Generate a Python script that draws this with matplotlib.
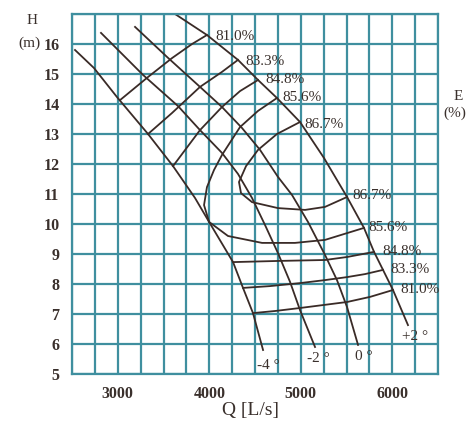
import numpy as np
import matplotlib

matplotlib.use('Agg')

from matplotlib import pyplot as plt

plt.rcParams['font.family'] = ['Liberation Serif', 'DejaVu Serif']

##### Blade angle curves (H-Q) #####
angle_labels = ['-4', '-2', '0', '+2']

q_m4 = [2533, 2740, 2992, 3331, 3604, 3844, 3998, 4260, 4369, 4478, 4588]
h_m4 = [15.80, 15.20, 14.23, 13.00, 11.93, 10.87, 10.07, 8.73, 7.87, 7.03, 5.80]

q_m2 = [2817, 3276, 3659, 3899, 4139, 4314, 4467, 4609, 4751, 4883, 4992, 5156]
h_m2 = [16.37, 14.97, 13.93, 13.13, 12.37, 11.67, 10.87, 9.97, 9.03, 8.07, 7.13, 5.90]

q_0 = [3189, 3538, 3899, 4139, 4358, 4555, 4751, 4904, 5079, 5265, 5396, 5506, 5626]
h_0 = [16.57, 15.57, 14.57, 13.90, 13.20, 12.47, 11.57, 10.97, 10.07, 8.97, 8.13, 7.23, 5.97]

q_p2 = [3626, 3975, 4314, 4533, 4740, 4992, 5254, 5506, 5691, 5801, 5899, 6008, 6172]
h_p2 = [17.00, 16.30, 15.47, 14.80, 14.20, 13.40, 12.20, 10.90, 9.87, 9.07, 8.47, 7.80, 6.63]

angle_q = [q_m4, q_m2, q_0, q_p2]
angle_h = [h_m4, h_m2, h_0, h_p2]

##### Efficiency curves #####
eff_labels = ['81.0%', '83.3%', '84.8%', '85.6%', '86.7%']

# upper branches (end on the +2 curve, top)
q_81_up = [3025, 3331, 3593, 3812, 3975]
h_81_up = [14.13, 14.90, 15.53, 16.00, 16.30]
q_83_up = [3331, 3593, 3899, 4139, 4314]
h_83_up = [13.00, 13.70, 14.57, 15.07, 15.47]
q_84_up = [3604, 3899, 4139, 4336, 4533]
h_84_up = [11.93, 13.13, 13.90, 14.43, 14.80]

# lower branches (end on the +2 curve, bottom)
q_81_lo = [4478, 4719, 4992, 5506, 5757, 6008]
h_81_lo = [7.03, 7.10, 7.20, 7.40, 7.57, 7.80]
q_83_lo = [4369, 4664, 4992, 5265, 5506, 5702, 5899]
h_83_lo = [7.87, 7.93, 8.03, 8.13, 8.23, 8.33, 8.47]
q_84_lo = [4260, 4773, 5265, 5506, 5801]
h_84_lo = [8.73, 8.77, 8.80, 8.90, 9.07]

# closed-ish curves
q_85 = [4740, 4533, 4336, 4139, 4052, 3975, 3943, 3998, 4205, 4577, 4937, 5265, 5691]
h_85 = [14.20, 13.77, 13.23, 12.30, 11.80, 11.23, 10.63, 10.07, 9.60, 9.37, 9.37, 9.47, 9.87]
q_86 = [4992, 4740, 4533, 4402, 4325, 4347, 4467, 4751, 5047, 5265, 5506]
h_86 = [13.40, 13.00, 12.47, 11.93, 11.40, 11.03, 10.73, 10.53, 10.47, 10.57, 10.90]

eff_q = [q_81_up, q_83_up, q_84_up, q_81_lo, q_83_lo, q_84_lo, q_85, q_86]
eff_h = [h_81_up, h_83_up, h_84_up, h_81_lo, h_83_lo, h_84_lo, h_85, h_86]

##### Axis ticks #####
x_ticks = [3000, 4000, 5000, 6000]
y_ticks = [5, 6, 7, 8, 9, 10, 11, 12, 13, 14, 15, 16]

grid_col = '#3f8f9f'
line_col = '#3a2b27'
text_col = '#3a302c'

fig = plt.figure(figsize=(4.68, 4.32), dpi=100)
ax = fig.add_axes([72 / 468, 1 - 374 / 432, 366 / 468, 360 / 432])

ax.set_xlim(2500, 6500)
ax.set_ylim(5, 17)

xgrid = np.arange(2500, 6501, 250)
ygrid = np.arange(5, 18, 1)
ax.set_xticks(xgrid)
ax.set_xticklabels([str(int(v)) if v in x_ticks else '' for v in xgrid])
ax.set_yticks(ygrid)
ax.set_yticklabels([str(int(v)) if v in y_ticks else '' for v in ygrid])
ax.tick_params(length=0, labelsize=11.5, colors=text_col)
ax.tick_params(axis='x', pad=9)
ax.tick_params(axis='y', pad=9)
for t in ax.get_xticklabels() + ax.get_yticklabels():
    t.set_fontweight('bold')

ax.grid(True, color=grid_col, lw=1.6)
ax.set_axisbelow(True)
for s in ax.spines.values():
    s.set_color(grid_col)
    s.set_linewidth(1.6)

for q, h in zip(angle_q, angle_h):
    ax.plot(q, h, color=line_col, lw=1.3)
for q, h in zip(eff_q, eff_h):
    ax.plot(q, h, color=line_col, lw=1.3)

# efficiency labels, at the ends on the +2 curve
ends_up = [(q_81_up, h_81_up, -1), (q_83_up, h_83_up, -1), (q_84_up, h_84_up, -1),
           (q_85, h_85, 0), (q_86, h_86, 0)]
offs_up = [(6, -1), (5, -1), (5, 0), (4, 0), (3, -2)]
for lab, (q, h, i), off in zip(eff_labels, ends_up, offs_up):
    ax.annotate(lab, (q[i], h[i]), xytext=off, textcoords='offset points',
                va='center', ha='left', fontsize=11, color=text_col)

ends_lo = [(q_81_lo, h_81_lo), (q_83_lo, h_83_lo), (q_84_lo, h_84_lo), (q_85, h_85), (q_86, h_86)]
offs_lo = [(5, 0), (5, 0), (6, 0), (3, 0), (4, 1)]
for lab, (q, h), off in zip(eff_labels, ends_lo, offs_lo):
    ax.annotate(lab, (q[-1], h[-1]), xytext=off, textcoords='offset points',
                va='center', ha='left', fontsize=11, color=text_col)

# blade angle labels at the bottom ends
offs_ang = [(-4, -11), (-6, -8), (-2, -8), (-4, -8)]
for lab, q, h, off in zip(angle_labels, angle_q, angle_h, offs_ang):
    ax.annotate(lab + ' \u00b0', (q[-1], h[-1]), xytext=off, textcoords='offset points',
                va='center', ha='left', fontsize=11, color=text_col)

fig.text(32 / 468, 1 - 21 / 432, 'H', ha='center', va='center', fontsize=11, color=text_col)
fig.text(29 / 468, 1 - 43 / 432, '(m)', ha='center', va='center', fontsize=11, color=text_col)
fig.text(458 / 468, 1 - 97 / 432, 'E', ha='center', va='center', fontsize=11, color=text_col)
fig.text(466 / 468, 1 - 113 / 432, '(%)', ha='right', va='center', fontsize=11, color=text_col)
fig.text(251 / 468, 1 - 411 / 432, 'Q [L/s]', ha='center', va='center', fontsize=14, color=text_col)

plt.savefig('out.png', dpi=100, facecolor='white')
